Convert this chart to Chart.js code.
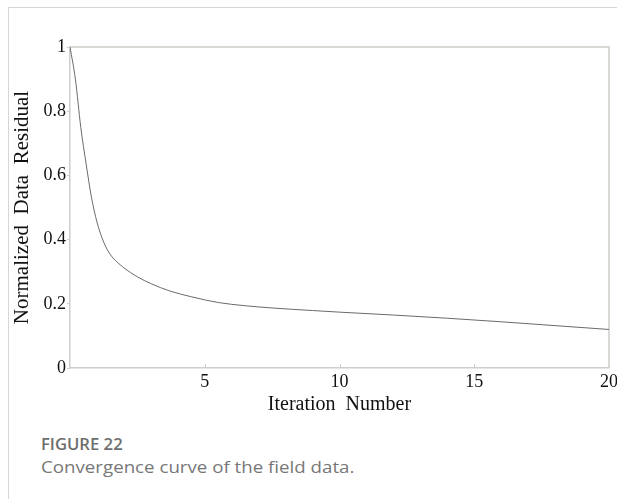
<!DOCTYPE html>
<html>
<head>
<meta charset="utf-8">
<script src="https://cdn.jsdelivr.net/npm/chart.js@4/dist/chart.umd.min.js"></script>
<style>
  html, body { margin: 0; padding: 0; background: #fff; width: 617px; height: 499px; overflow: hidden; }
  #frame { position: absolute; left: 8px; top: 7px; width: 620px; height: 500px; border-top: 1.5px solid #d6d6d6; border-left: 1.5px solid #d6d6d6; }
  #wrap { position: absolute; left: 0; top: 0; width: 617px; height: 420px; overflow: hidden; }
  #cv { display: block; }
  #cap1 { position: absolute; left: 41px; top: 433px; font-family: "Open Sans", sans-serif; font-weight: 600; font-size: 16px; color: #6e6e6e; transform: scaleX(1.04); transform-origin: left top; }
  #cap2 { position: absolute; left: 41px; top: 455px; font-family: "Open Sans", sans-serif; font-weight: 400; font-size: 17px; color: #777; transform: scaleX(1.1); transform-origin: left top; white-space: nowrap; }
</style>
</head>
<body>
<div id="frame"></div>
<div id="wrap"><canvas id="cv" width="640" height="420"></canvas></div>
<div id="cap1">FIGURE 22</div>
<div id="cap2">Convergence curve of the field data.</div>
<script>
// ---- data ----
const iterations = [0, 0.2, 0.4, 0.6, 0.8, 1.0, 1.25, 1.5, 1.75, 2, 2.5, 3, 3.7, 4.5, 5.5, 6.5, 7.5, 9, 10, 12, 14, 16, 18, 20];
const residuals  = [1.0, 0.90, 0.75, 0.635, 0.53, 0.455, 0.392, 0.353, 0.330, 0.312, 0.284, 0.263, 0.240, 0.222, 0.204, 0.194, 0.187, 0.179, 0.174, 0.165, 0.155, 0.144, 0.132, 0.120];
const xTickValues = [0, 5, 10, 15, 20];
const xTickLabels = ['', '5', '10', '15', '20'];
const yTickValues = [0, 0.2, 0.4, 0.6, 0.8, 1];
const yTickLabels = ['0', '0.2', '0.4', '0.6', '0.8', '1'];
const xTitle = 'Iteration  Number';
const yTitle = 'Normalized  Data  Residual';

const points = iterations.map((x, i) => ({ x: x, y: residuals[i] }));
const axisColor = '#cfcdc9';
const serif = '"Liberation Serif", "Times New Roman", serif';

const boxPlugin = {
  id: 'box',
  beforeDatasetsDraw(chart) {
    const { ctx, chartArea: a } = chart;
    const xs = chart.scales.x;
    ctx.save();
    ctx.strokeStyle = axisColor;
    ctx.lineWidth = 1.5;
    ctx.beginPath();
    ctx.moveTo(a.left, a.top);
    ctx.lineTo(a.right, a.top);
    ctx.lineTo(a.right, a.bottom);
    ctx.stroke();
    // inward x ticks
    ctx.lineWidth = 1;
    xTickValues.forEach(v => {
      if (v === xs.min || v === xs.max) return;
      const px = Math.round(xs.getPixelForValue(v)) + 0.5;
      ctx.beginPath();
      ctx.moveTo(px, a.bottom);
      ctx.lineTo(px, a.bottom - 4);
      ctx.stroke();
    });
    ctx.restore();
  }
};

new Chart(document.getElementById('cv'), {
  type: 'line',
  data: {
    datasets: [{
      data: points,
      borderColor: '#6a6a6a',
      borderWidth: 1,
      pointRadius: 0,
      cubicInterpolationMode: 'monotone',
      fill: false
    }]
  },
  options: {
    responsive: false,
    animation: false,
    events: [],
    layout: { padding: { left: 0, right: 31, top: 47, bottom: 0 } },
    plugins: { legend: { display: false }, tooltip: { enabled: false } },
    scales: {
      x: {
        type: 'linear',
        min: 0, max: 20,
        afterFit(s) { s.height = 52; },
        afterBuildTicks(s) { s.ticks = xTickValues.map(v => ({ value: v })); },
        ticks: {
          callback: (v) => xTickLabels[xTickValues.indexOf(v)] ?? '',
          font: { family: serif, size: 18 },
          color: '#111',
          padding: 3,
          maxRotation: 0,
          autoSkip: false
        },
        grid: { display: true, drawOnChartArea: false, drawTicks: false, color: axisColor },
        border: { display: true, color: axisColor, width: 1.5 },
        title: {
          display: true, text: xTitle,
          font: { family: serif, size: 20 },
          color: '#111',
          padding: { top: 0, bottom: 3 }
        }
      },
      y: {
        type: 'linear',
        min: 0, max: 1,
        afterFit(s) { s.width = 70; },
        afterBuildTicks(s) { s.ticks = yTickValues.map(v => ({ value: v })); },
        ticks: {
          callback: (v) => yTickLabels[yTickValues.indexOf(v)] ?? '',
          font: { family: serif, size: 18 },
          color: '#111',
          padding: 1
        },
        grid: { display: true, drawOnChartArea: false, drawTicks: true, tickLength: 3, color: axisColor },
        border: { display: true, color: axisColor, width: 1.5 },
        title: {
          display: true, text: yTitle,
          font: { family: serif, size: 21 },
          color: '#111',
          padding: { top: 10, bottom: 0 }
        }
      }
    }
  },
  plugins: [boxPlugin]
});
</script>
</body>
</html>
